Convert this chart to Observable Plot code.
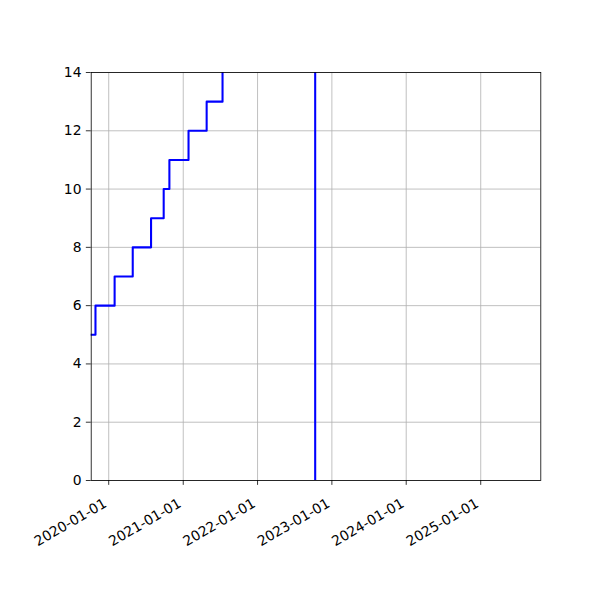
<!DOCTYPE html>
<html>
<head>
<meta charset="utf-8">
<script src="https://cdn.jsdelivr.net/npm/d3@7"></script>
<script src="https://cdn.jsdelivr.net/npm/@observablehq/plot@0.6"></script>
<style>
  html, body { margin: 0; padding: 0; background: #fff; }
  #chart { width: 600px; height: 600px; }
</style>
</head>
<body>
<div id="chart"></div>
<script>
// Step series: change dates and the value that starts on each date
const stepDates = [
  "2019-09-01", "2019-10-28", "2020-01-30", "2020-04-28", "2020-07-27",
  "2020-09-27", "2020-10-25", "2021-01-27", "2021-04-26", "2021-07-13",
  "2022-10-11", "2025-12-31"
];
const stepValues = [5, 6, 7, 8, 9, 10, 11, 12, 13, 20, -5, -5];

const xDomain = ["2019-10-07", "2025-10-23"];
const yDomain = [0, 14];
const xTickLabels = ["2020-01-01", "2021-01-01", "2022-01-01", "2023-01-01", "2024-01-01", "2025-01-01"];
const yTickValues = [0, 2, 4, 6, 8, 10, 12, 14];

const data = stepDates.map((d, i) => ({date: new Date(d + "T00:00:00Z"), value: stepValues[i]}));
const xTicks = xTickLabels.map(d => new Date(d + "T00:00:00Z"));
const fmt = d3.utcFormat("%Y-%m-%d");

const FONT = "'DejaVu Sans', sans-serif";
const FS = 13.9;

const chart = Plot.plot({
  width: 600,
  height: 600,
  marginLeft: 90.7,
  marginRight: 59.7,
  marginTop: 72,
  marginBottom: 120,
  style: {fontFamily: FONT, fontSize: FS + "px", color: "#000", background: "#fff", overflow: "visible"},
  x: {type: "utc", domain: xDomain.map(d => new Date(d + "T00:00:00Z"))},
  y: {domain: yDomain},
  marks: [
    Plot.gridX(xTicks, {stroke: "#b0b0b0", strokeOpacity: 1, strokeWidth: 0.8}),
    Plot.gridY(yTickValues, {stroke: "#b0b0b0", strokeOpacity: 1, strokeWidth: 0.8}),
    Plot.line(data, {x: "date", y: "value", curve: "step-after", stroke: "#0000ff", strokeWidth: 2.08, clip: true, strokeLinejoin: "round"}),
    Plot.frame({stroke: "#000", strokeWidth: 0.8}),
    Plot.axisY(yTickValues, {tickSize: 4.86, tickPadding: 4.86, strokeWidth: 0.8, fontSize: FS, label: null, tickFormat: d => String(d)}),
    Plot.axisX(xTicks, {tickSize: 4.86, strokeWidth: 0.8, text: null, label: null}),
    Plot.text(xTicks, {
      x: d => d,
      text: d => fmt(d),
      frameAnchor: "bottom",
      textAnchor: "end",
      lineAnchor: "top",
      rotate: -30,
      dx: -6,
      dy: 17,
      fontSize: FS,
      fill: "#000"
    })
  ]
});

document.getElementById("chart").appendChild(chart);
</script>
</body>
</html>
